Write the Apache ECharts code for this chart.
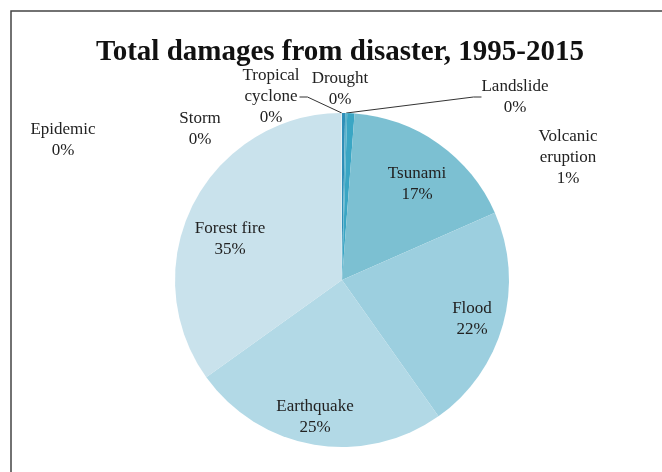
<!DOCTYPE html>
<html>
<head>
<meta charset="utf-8">
<script src="https://cdn.jsdelivr.net/npm/echarts@6/dist/echarts.min.js"></script>
<style>
  html, body { margin: 0; padding: 0; background: #fff; }
  #chart { width: 662px; height: 472px; }
</style>
</head>
<body>
<div id="chart"></div>
<script>
// damage shares (%) in clockwise order from 12 o'clock
const categories = ['Drought', 'Landslide', 'Volcanic eruption', 'Tsunami', 'Flood',
	'Earthquake', 'Forest fire', 'Storm', 'Tropical cyclone', 'Epidemic'];
const shares = [0.3, 0.2, 0.7, 17.2, 21.8, 24.9, 34.8, 0.05, 0.05, 0];
const labelNames = ['Drought', 'Landslide', 'Volcanic\neruption', 'Tsunami', 'Flood',
	'Earthquake', 'Forest fire', 'Storm', 'Tropical\ncyclone', 'Epidemic'];
const withLeader = ['Landslide', 'Tropical cyclone'];

const colors = ['#2f8fb8', '#5fb3cc', '#3aa6c4', '#7cc0d2', '#9ccfdf',
	'#b2d9e6', '#c9e2ec', '#d4e8f0', '#d8eaf1', '#dcecf2'];

// label block centres, px
const labelPos = [
	[340, 89], [515, 97], [568, 158], [417, 184], [472, 319],
	[315, 417], [230, 239], [200, 129], [271, 97], [63, 140],
];

const chart = echarts.init(document.getElementById('chart'));

const option = {
	animation: false,
	backgroundColor: '#fff',
	title: {
		text: 'Total damages from disaster, 1995-2015',
		left: 91,
		top: 33,
		textStyle: {
			fontFamily: 'Liberation Serif',
			fontWeight: 'bold',
			fontSize: 29,
			color: '#111',
		},
	},
	graphic: [{
		type: 'rect',
		shape: { x: 11, y: 11, width: 700, height: 500 },
		style: { fill: 'none', stroke: '#444', lineWidth: 1.5 },
		silent: true,
	}],
	series: [{
		type: 'pie',
		center: [342, 280],
		radius: 167,
		startAngle: 90,
		clockwise: true,
		avoidLabelOverlap: false,
		stillShowZeroSum: true,
		label: {
			show: true,
			position: 'outside',
			fontFamily: 'Liberation Serif',
			fontSize: 17,
			lineHeight: 21,
			color: '#222',
			formatter: p => labelNames[p.dataIndex] + '\n' + Math.round(p.percent) + '%',
		},
		labelLine: { show: false },
		labelLayout: p => ({
			x: labelPos[p.dataIndex][0],
			y: labelPos[p.dataIndex][1],
			align: 'center',
			verticalAlign: 'middle',
		}),
		itemStyle: { borderWidth: 0 },
		data: categories.map((name, i) => ({
			name,
			value: shares[i],
			itemStyle: { color: colors[i] },
			labelLine: withLeader.includes(name)
				? { show: true, length: 5, length2: 8, lineStyle: { color: '#333', width: 1 } }
				: { show: false },
		})),
	}],
};

chart.setOption(option);
</script>
</body>
</html>
